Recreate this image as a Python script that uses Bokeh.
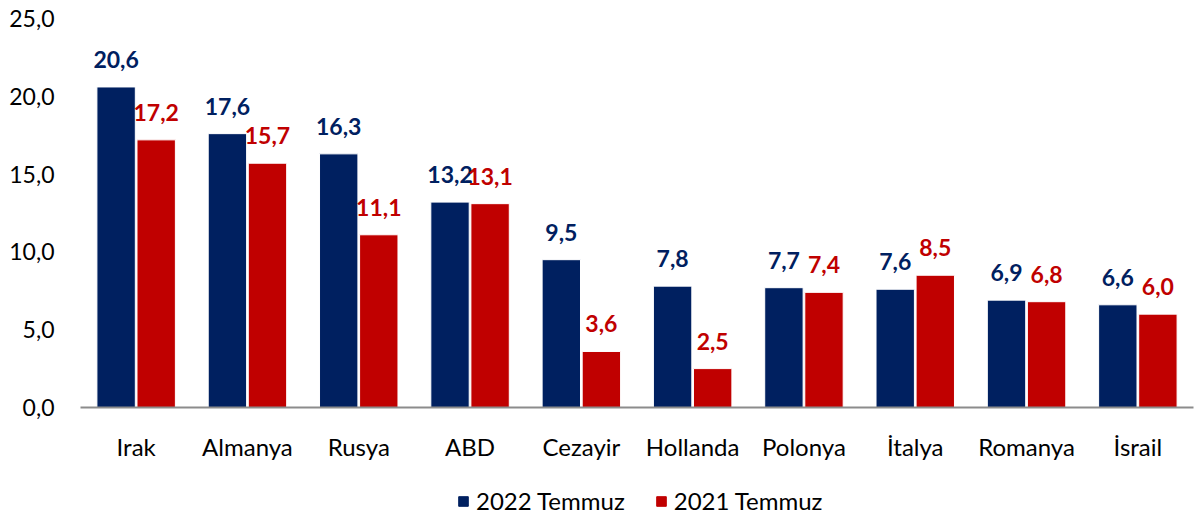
from bokeh.plotting import figure
from bokeh.models import ColumnDataSource, FixedTicker, CustomJSTickFormatter, Legend, LegendItem, Range1d, FactorRange
from bokeh.layouts import column
from bokeh.transform import dodge
from bokeh.core.properties import value
from bokeh.embed import file_html
from bokeh.resources import INLINE

categories = ["Irak", "Almanya", "Rusya", "ABD", "Cezayir", "Hollanda", "Polonya", "İtalya", "Romanya", "İsrail"]
v2022 = [20.6, 17.6, 16.3, 13.2, 9.5, 7.8, 7.7, 7.6, 6.9, 6.6]
v2021 = [17.2, 15.7, 11.1, 13.1, 3.6, 2.5, 7.4, 8.5, 6.8, 6.0]
series_names = ["2022 Temmuz", "2021 Temmuz"]
yticks = [0, 5, 10, 15, 20, 25]

NAVY = "#002060"
RED = "#C00000"
FONT = "Lato"
FS = "23px"

def fmt(v):
    return f"{v:.1f}".replace(".", ",")

src = ColumnDataSource(dict(
    cat=categories, a=v2022, b=v2021,
    la=[fmt(v) for v in v2022], lb=[fmt(v) for v in v2021],
))

p = figure(width=1197, height=475, x_range=FactorRange(*categories, range_padding=0),
           y_range=Range1d(0, 25), output_backend="svg", toolbar_location=None,
           min_border_left=80, min_border_right=4, min_border_top=18, min_border_bottom=68)
p.outline_line_color = None
p.xgrid.visible = False
p.ygrid.visible = False
p.background_fill_color = "white"
p.border_fill_color = "white"

r1 = p.vbar(x=dodge("cat", -0.18, range=p.x_range), top="a", width=0.345, source=src,
            fill_color=NAVY, line_color="white", line_width=1)
r2 = p.vbar(x=dodge("cat", 0.18, range=p.x_range), top="b", width=0.345, source=src,
            fill_color=RED, line_color="white", line_width=1)

p.text(x=dodge("cat", -0.18, range=p.x_range), y="a", text="la", source=src,
       text_align="center", text_baseline="bottom", y_offset=-19,
       text_font=value(FONT), text_font_style="bold", text_font_size=FS, text_color=NAVY)
p.text(x=dodge("cat", 0.18, range=p.x_range), y="b", text="lb", source=src,
       text_align="center", text_baseline="bottom", y_offset=-19,
       text_font=value(FONT), text_font_style="bold", text_font_size=FS, text_color=RED)

p.yaxis.ticker = FixedTicker(ticks=yticks)
p.yaxis.formatter = CustomJSTickFormatter(code="return tick.toFixed(1).replace('.', ',');")
p.yaxis.axis_line_color = None
p.yaxis.major_tick_line_color = None
p.yaxis.minor_tick_line_color = None
p.yaxis.major_label_standoff = 20
p.yaxis.major_label_text_font = FONT
p.yaxis.major_label_text_font_size = FS
p.yaxis.major_label_text_color = "#000000"

p.xaxis.axis_line_color = "#8c8c8c"
p.xaxis.axis_line_width = 2
p.xaxis.major_tick_line_color = None
p.xaxis.minor_tick_line_color = None
p.xaxis.major_label_standoff = 18
p.xaxis.major_label_text_font = FONT
p.xaxis.major_label_text_font_size = "24px"
p.xaxis.major_label_text_color = "#000000"

# legend strip below the chart (swatch renderers sit outside the visible range)
lg = figure(width=1197, height=44, x_range=Range1d(0, 1), y_range=Range1d(0, 1),
            output_backend="svg", toolbar_location=None,
            min_border_left=0, min_border_right=0, min_border_top=0, min_border_bottom=0)
lg.axis.visible = False
lg.grid.visible = False
lg.outline_line_color = None
d1 = lg.vbar(x=[-5], top=[-5], width=0.1, fill_color=NAVY, line_color=NAVY)
d2 = lg.vbar(x=[-5], top=[-5], width=0.1, fill_color=RED, line_color=RED)
legend = Legend(items=[LegendItem(label=series_names[0], renderers=[d1]),
                       LegendItem(label=series_names[1], renderers=[d2])],
                orientation="horizontal", location=(377, 4),
                label_text_font=FONT, label_text_font_size="24px", label_text_color="#000000",
                glyph_width=12, glyph_height=12, spacing=30, border_line_color=None,
                background_fill_alpha=0, padding=2, margin=0, label_standoff=7)
lg.add_layout(legend, "center")

open("out.html", "w").write(file_html(column(p, lg, spacing=0), INLINE))
